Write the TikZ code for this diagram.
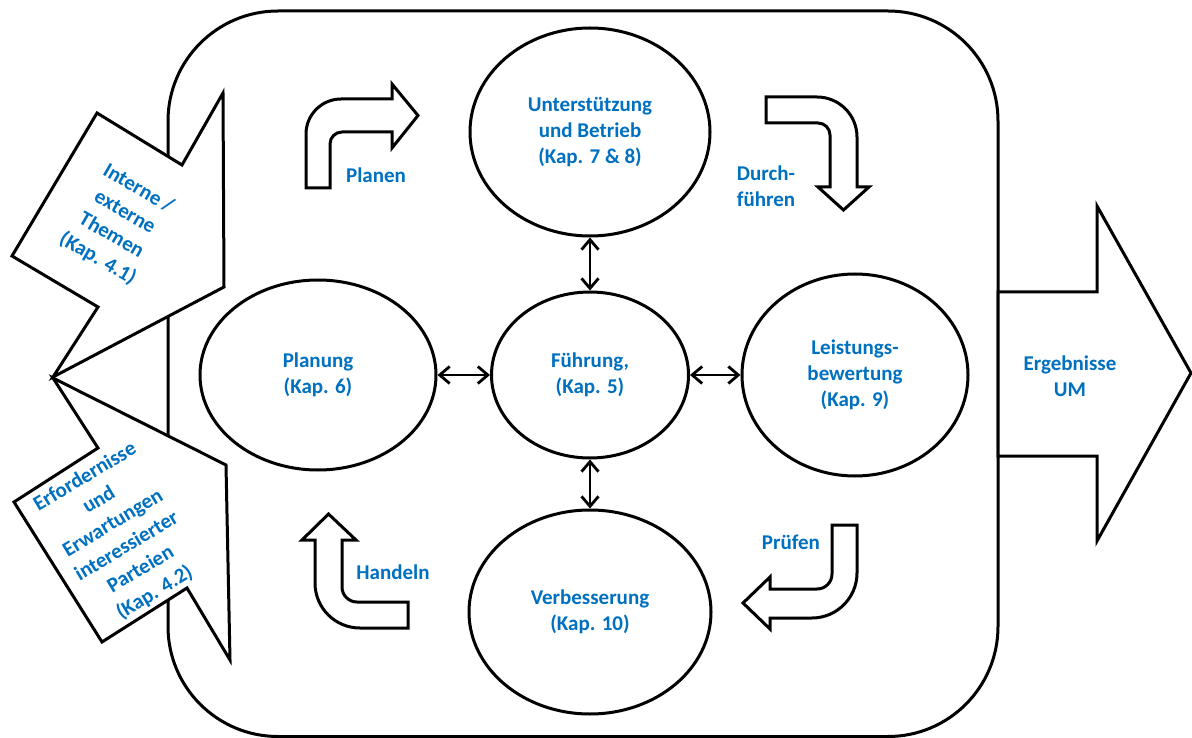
\documentclass[tikz,border=0pt]{standalone}
\usepackage{fontspec}
\setmainfont{Carlito}
\usetikzlibrary{shapes.geometric,arrows.meta}
\definecolor{txtblue}{RGB}{0,112,192}
\tikzset{
  lbl/.style={text=txtblue,font=\fontsize{21}{26}\selectfont\bfseries,align=center,inner sep=0pt},
  rlbl/.style={lbl,font=\fontsize{21}{27}\selectfont\bfseries},
  oval/.style={ellipse,draw,line width=3pt,fill=white,inner sep=0pt,lbl},
  shp/.style={draw,line width=3pt,fill=white,line join=miter},
  conn/.style={line width=2.8pt,{Straight Barb[length=10pt,width=17pt,line width=2.8pt]}-{Straight Barb[length=10pt,width=17pt,line width=2.8pt]}}
}
\begin{document}
\begin{tikzpicture}[x=1pt,y=-1pt]
\useasboundingbox (0,0) rectangle (1192,738);
% main rounded frame
\draw[line width=3pt,rounded corners=110pt] (168,11) rectangle (998,736.5);
% left input arrows
\draw[shp] (97,113) -- (182,165) -- (223,93) -- (224,287) -- (53,377) -- (98,307) -- (12,256) -- cycle;
\draw[shp] (53,378) -- (98,448) -- (14,502) -- (102,642) -- (187,588) -- (230,660) -- (226,465) -- cycle;
\node[rlbl,rotate=-30] (intern) at (118,224) {Interne /\\externe\\Themen\\(Kap. 4.1)};
\node[rlbl,rotate=31] (erford) at (120,535) {Erfordernisse\\und\\Erwartungen\\interessierter\\Parteien\\(Kap. 4.2)};
% right output arrow
\draw[shp] (998,292) -- (1097,292) -- (1097,206) -- (1191,373) -- (1097,541) -- (1097,456) -- (998,456) -- cycle;
\node[lbl] (ergeb) at (1070,376) {Ergebnisse\\UM};
% ellipses
\node[oval,minimum width=240pt,minimum height=208pt] (unter) at (590,132) {Unterstützung\\und Betrieb\\(Kap. 7 \& 8)};
\node[oval,minimum width=197pt,minimum height=166pt] (fuehr) at (590,375) {Führung,\\(Kap. 5)};
\node[oval,minimum width=236pt,minimum height=190pt] (plan) at (318,375) {Planung\\(Kap. 6)};
\node[oval,minimum width=226pt,minimum height=202pt] (leist) at (855,375) {Leistungs-\\bewertung\\(Kap. 9)};
\node[oval,minimum width=242pt,minimum height=204pt] (verb) at (590,612) {Verbesserung\\(Kap. 10)};
% connectors
\draw[conn] (unter.south) -- (fuehr.north);
\draw[conn] (fuehr.south) -- (verb.north);
\draw[conn] (plan.east) -- (fuehr.west);
\draw[conn] (fuehr.east) -- (leist.west);
% bent arrows
\draw[shp] (306,188) -- (306,134) .. controls (306,114.7) and (321.7,99) .. (341,99) -- (392,99) -- (392,84) -- (418,115.5) -- (392,148) -- (392,132) -- (342,132) .. controls (335.4,132) and (330,137.4) .. (330,144) -- (330,188) -- cycle;
\draw[shp] (766,97) -- (817,97) .. controls (839.1,97) and (857,114.9) .. (857,137) -- (857,187) -- (869,187) -- (843.5,210) -- (818,187) -- (830,187) -- (830,135) .. controls (830,128.4) and (824.6,123) .. (818,123) -- (766,123) -- cycle;
\draw[shp] (328.5,514) -- (356,540) -- (342,540) -- (342,587) .. controls (342,595.3) and (348.7,602) .. (357,602) -- (408,602) -- (408,628) -- (360,628) .. controls (335.1,628) and (315,607.9) .. (315,583) -- (315,540) -- (302,540) -- cycle;
\draw[shp] (832,525) -- (857,525) -- (857,573) .. controls (857,597.8) and (836.8,618) .. (812,618) -- (770,618) -- (770,629) -- (743,603) -- (770,577) -- (770,589) -- (817,589) .. controls (825.3,589) and (832,582.3) .. (832,574) -- cycle;
% labels
\node[lbl] (planen) at (376,175) {Planen};
\node[lbl,align=left] (durch) at (766,186) {Durch-\\führen};
\node[lbl] (handeln) at (393,572) {Handeln};
\node[lbl] (pruefen) at (791,542) {Prüfen};
\end{tikzpicture}
\end{document}
